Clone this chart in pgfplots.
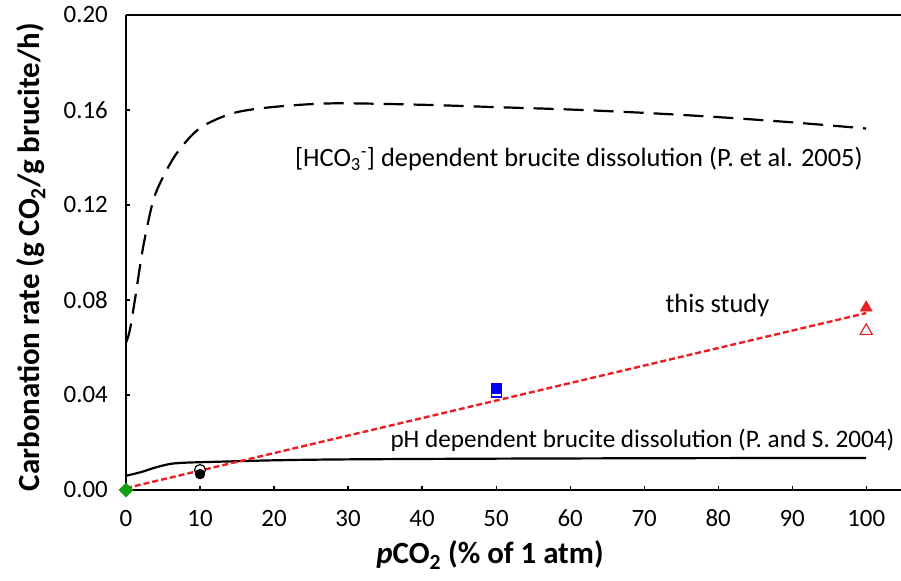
\documentclass[border=0pt]{standalone}
\usepackage{fontspec}
\setmainfont{Carlito}
\usepackage{pgfplots}
\pgfplotsset{compat=1.18}
\definecolor{studyred}{RGB}{235,30,35}
\definecolor{mkgreen}{RGB}{20,160,20}

\begin{document}
\begin{tikzpicture}[x=1bp,y=1bp]
\begin{axis}[
    scale only axis,
    width=775bp, height=475bp,
    xmin=0, xmax=104.7,
    ymin=0, ymax=0.2,
    axis x line*=bottom,
    axis y line*=left,
    axis line style={line width=1.8bp},
    xtick={0,10,...,100},
    ytick={0,0.04,...,0.2},
    tick align=inside,
    major tick length=4bp,
    tick style={line width=1.2bp, black},
    /pgf/number format/assume math mode=true,
    ticklabel style={font=\fontsize{25}{27}\selectfont, inner sep=0pt},
    yticklabel style={/pgf/number format/fixed, /pgf/number format/fixed zerofill,
        /pgf/number format/precision=2, anchor=east, xshift=-18bp},
    xticklabel style={anchor=base, yshift=-36bp},
    xlabel={\textbf{\textit{p}CO\textsubscript{2} (\% of 1 atm)}},
    ylabel={\textbf{Carbonation rate (g CO\textsubscript{2}/g brucite/h)}},
    label style={font=\fontsize{31}{33}\selectfont},
    xlabel style={at={(axis description cs:0.4697,-0.137)}, anchor=center},
    ylabel style={at={(axis description cs:-0.1226,0.49)}, anchor=center},
    clip=false,
]
% top border
\draw[line width=1.8bp] (rel axis cs:0,1) -- (rel axis cs:1,1);

% [HCO3-] dependent dissolution
\addplot[black, line width=2.2bp, dash pattern=on 20bp off 10bp, smooth] coordinates {
    (0,0.062) (0.5,0.067) (1.2,0.080) (2.3,0.102) (3.6,0.121) (4.8,0.1305)
    (6.9,0.142) (10,0.1524) (14.5,0.1587) (20,0.1613) (28,0.1628)
    (40,0.1622) (50,0.1612) (60,0.1602) (70,0.1588) (80,0.1570)
    (90,0.1548) (100,0.1522)
};

% pH dependent dissolution
\addplot[black, line width=2.2bp, smooth] coordinates {
    (0,0.0060) (2,0.0075) (4,0.0095) (6,0.0110) (8,0.0115) (10,0.0117)
    (20,0.0125) (30,0.0129) (50,0.0132) (75,0.0134) (100,0.0135)
};

% this study fit
\addplot[studyred, line width=2.4bp, dash pattern=on 6bp off 3bp] coordinates {
    (0,0.0008) (100,0.0745)
};

% measured points
\addplot[only marks, mark=square*, mark size=5bp, mkgreen, mark options={fill=mkgreen, draw=mkgreen, rotate=45}] coordinates {(0,0)};
\addplot[only marks, mark=*, mark size=5.5bp, black, mark options={fill=white, line width=1.2bp}] coordinates {(10,0.0084)};
\addplot[only marks, mark=*, mark size=5bp, black] coordinates {(10,0.0067)};
\addplot[only marks, mark=square, mark size=5bp, blue, mark options={line width=1.2bp}] coordinates {(50,0.0413)};
\addplot[only marks, mark=square*, mark size=5bp, blue] coordinates {(50,0.0427)};
\addplot[only marks, mark=triangle*, mark size=7bp, studyred] coordinates {(100,0.0768)};
\addplot[only marks, mark=triangle, mark size=7bp, studyred, mark options={line width=1.2bp}] coordinates {(100,0.0670)};

% annotations
\node[font=\fontsize{26.5}{28}\selectfont, anchor=east] at (axis cs:100,0.1394) {[HCO\textsubscript{3}\textsuperscript{-}] dependent brucite dissolution (P. et al. 2005)};
\node[font=\fontsize{26.5}{28}\selectfont] at (axis cs:79.9,0.0779) {this study};
\node[font=\fontsize{25.3}{27}\selectfont, anchor=east] at (axis cs:104.3,0.0210) {pH dependent brucite dissolution (P. and S. 2004)};
\end{axis}
\pgfresetboundingbox
\path ([shift={(-126bp,-91bp)}]current axis.south west) rectangle ([shift={(0bp,15bp)}]current axis.north east);
\end{tikzpicture}
\end{document}
